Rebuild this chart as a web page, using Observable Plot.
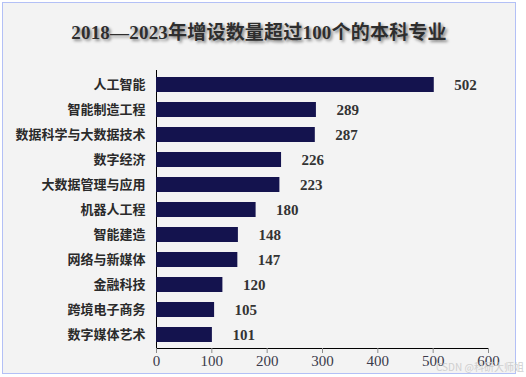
<!DOCTYPE html>
<html>
<head>
<meta charset="utf-8">
<script src="https://cdn.jsdelivr.net/npm/d3@7"></script>
<script src="https://cdn.jsdelivr.net/npm/@observablehq/plot@0.6"></script>
<style>
  html, body { margin: 0; padding: 0; background: #ffffff; width: 526px; height: 377px; overflow: hidden; }
  #frame {
    position: absolute; left: 2px; top: 2px; width: 514px; height: 372px;
    box-sizing: border-box; border: 1.5px solid #b3c0f6; background: #f3f3f3;
  }
  #title {
    position: absolute; left: 0; top: 20px; width: 518px; text-align: center;
    font-family: "Liberation Serif", "Noto Sans CJK SC", serif; font-weight: bold;
    font-size: 19px; color: #2e2e2e; text-shadow: 2px 2px 3px rgba(0,0,0,0.45);
    line-height: 26px; letter-spacing: 0.2px;
  }
  #chart { position: absolute; left: 0; top: 40px; }
  #wm {
    position: absolute; left: 436px; top: 361px; font-family: "Noto Sans CJK SC", sans-serif;
    font-size: 10px; line-height: 12px; color: #cfcfcf; white-space: nowrap;
  }
</style>
</head>
<body>
<div id="frame"></div>
<div id="title">2018—2023年增设数量超过100个的本科专业</div>
<div id="chart"></div>
<div id="wm">CSDN @科研大师姐</div>
<script>
const categories = ["人工智能","智能制造工程","数据科学与大数据技术","数字经济","大数据管理与应用","机器人工程","智能建造","网络与新媒体","金融科技","跨境电子商务","数字媒体艺术"];
const values = [502, 289, 287, 226, 223, 180, 148, 147, 120, 105, 101];
const xTicks = [0, 100, 200, 300, 400, 500, 600];

const data = categories.map((c, i) => ({category: c, value: values[i]}));

const chart = Plot.plot({
  width: 526,
  height: 337,
  marginTop: 30,
  marginBottom: 29,
  marginLeft: 156,
  marginRight: 38,
  style: {background: "transparent", overflow: "visible"},
  x: {domain: [0, 600], ticks: xTicks, label: null, line: true, tickSize: 5, tickPadding: 2},
  y: {domain: categories, paddingInner: 0.4, paddingOuter: 0.2, label: null, line: true, tickSize: 0, tickPadding: 11},
  marks: [
    Plot.barX(data, {x: "value", y: "category", fill: "#14134e"}),
    Plot.text(data, {x: "value", y: "category", text: d => String(d.value), textAnchor: "start", dx: 20,
      fill: "#333333", fontSize: 15, fontWeight: "bold", fontFamily: "Liberation Serif, serif"})
  ]
});
document.getElementById("chart").appendChild(chart);

const svg = d3.select(chart);
svg.selectAll("[aria-label='x-axis tick label']")
  .attr("font-family", "Liberation Serif, serif").attr("font-size", 15).attr("fill", "#3a3a4a");
svg.selectAll("[aria-label='y-axis tick label']")
  .attr("font-family", "Noto Sans CJK SC, sans-serif").attr("font-size", 13).attr("font-weight", "bold").attr("fill", "#2a2a2a");
svg.selectAll("[aria-label='x-axis tick'], [aria-label='x-axis line'], [aria-label='y-axis line']")
  .attr("stroke", "#8a8a8a");
</script>
</body>
</html>
